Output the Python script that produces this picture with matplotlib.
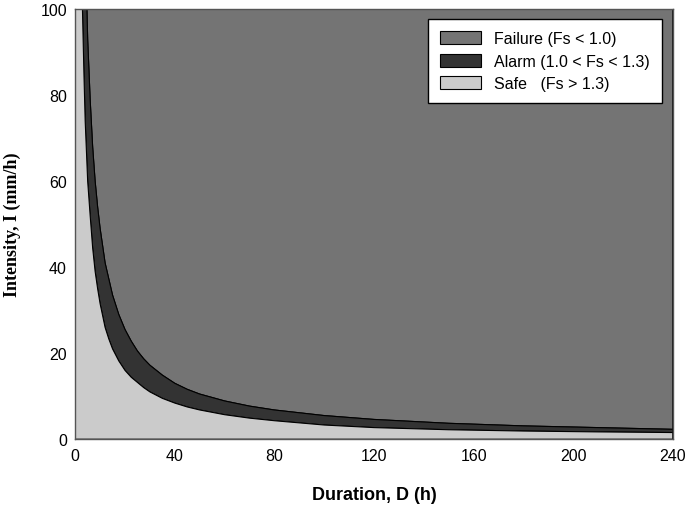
import numpy as np
import matplotlib
matplotlib.use("Agg")
import matplotlib.pyplot as plt
from matplotlib.patches import Patch

# threshold curves: duration D (h) -> intensity I (mm/h)
fs10_D = [4.7, 5, 6, 7, 8, 9, 10, 12, 15, 17.5, 20, 22.5, 25, 27.5, 30, 35, 40, 45,
          50, 60, 70, 80, 100, 120, 150, 180, 210, 240]
fs10_I = [100, 93, 79, 68, 60, 54, 49, 41, 33.5, 29, 25.5, 22.8, 20.5, 18.7, 17.2, 14.9, 13.0, 11.6,
          10.5, 8.9, 7.7, 6.8, 5.5, 4.6, 3.7, 3.1, 2.7, 2.3]

fs13_D = [2.9, 3.5, 4, 5, 6, 7, 8, 9, 10, 12, 13.5, 15, 17.5, 20, 22.5, 25, 27.5, 30, 35, 40, 45,
          50, 60, 70, 80, 100, 120, 150, 180, 210, 240]
fs13_I = [100, 85, 74, 60, 52, 44.5, 39, 35, 31.5, 26, 23.3, 21, 18.2, 16, 14.4, 13.2, 12.0, 11, 9.5, 8.4, 7.5,
          6.8, 5.7, 4.9, 4.3, 3.3, 2.7, 2.2, 1.9, 1.7, 1.55]

labels = ["Failure (Fs < 1.0)", "Alarm (1.0 < Fs < 1.3)", "Safe   (Fs > 1.3)"]
colors = ["#747474", "#333333", "#cbcbcb"]

plt.rcParams["font.family"] = ["Liberation Sans", "DejaVu Sans"]

fig = plt.figure(figsize=(6.9, 5.06), dpi=100)
ax = fig.add_axes([0.109, 0.130, 0.866, 0.850])

# failure zone: everything above the Fs=1.0 curve
ax.fill(fs10_D + [240, 240, 0, 0], fs10_I + [100, 100, 100, 100],
        facecolor=colors[0], edgecolor="black", lw=0.8)
# alarm band between the two curves
ax.fill(fs13_D + fs10_D[::-1], fs13_I + fs10_I[::-1],
        facecolor=colors[1], edgecolor="black", lw=0.8)
# safe zone below Fs=1.3
ax.fill([0, 0] + fs13_D + [240], [0, 100] + fs13_I + [0],
        facecolor=colors[2], edgecolor="black", lw=0.8)

ax.set_xlim(0, 240)
ax.set_ylim(0, 100)
ax.set_xticks(np.arange(0, 241, 40))
ax.set_yticks(np.arange(0, 101, 20))
ax.tick_params(length=0, labelsize=11.5, pad=6, colors="black")
for s in ax.spines.values():
    s.set_color("#555555")
    s.set_linewidth(1.0)

ax.set_xlabel("Duration, D (h)", fontsize=13, fontweight="bold", labelpad=17)
ax.set_ylabel("Intensity, I (mm/h)", fontsize=13, fontweight="bold",
              family=["Liberation Serif", "DejaVu Serif"], labelpad=14)

handles = [Patch(facecolor=c, edgecolor="black", lw=0.8) for c in colors]
leg = ax.legend(handles, labels, loc="upper right", fontsize=11.5, fancybox=False,
                framealpha=1, edgecolor="black", borderpad=0.75, handlelength=2.6,
                handleheight=0.9, labelspacing=0.45, bbox_to_anchor=(0.995, 0.995))
leg.get_frame().set_linewidth(1.0)

fig.savefig("out.png", dpi=100)
